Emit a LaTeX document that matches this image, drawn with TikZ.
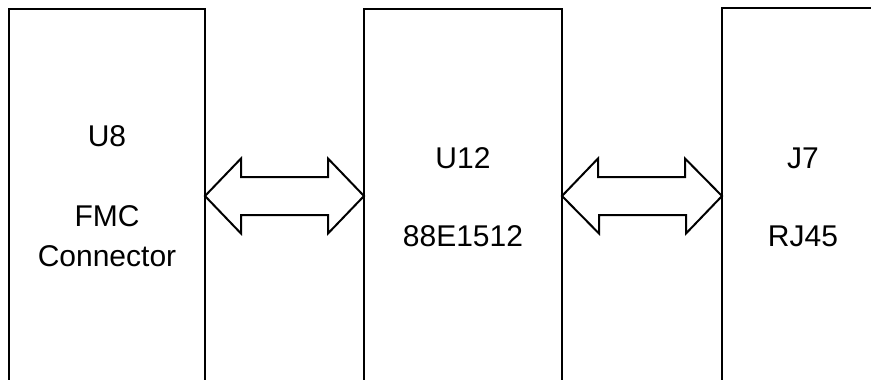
\documentclass[tikz,border=0pt]{standalone}
\usepackage{fontspec}
\setmainfont{Liberation Sans}

\tikzset{
  chip/.style={draw, line width=2pt, minimum width=#1, minimum height=440pt,
    inner sep=0pt, outer sep=0pt, anchor=north west},
  bus/.style={draw, line width=2pt, line join=miter},
  lbl/.style={font=\fontsize{30}{40}\selectfont, anchor=base, align=center}
}

\begin{document}
\begin{tikzpicture}[x=1pt, y=-1pt]
  \useasboundingbox (0,0) rectangle (871,380);
  \clip (0,0) rectangle (871,380);

  % the three parts, cut off at the bottom of the sheet
  \node[chip=196pt] (u8) at (9,9) {};
  \node[chip=198pt] (u12) at (364,9) {};
  \node[chip=196pt] (j7) at (722,8) {};

  \node[lbl] (u8ref) at (107,146) {U8};
  \node[lbl] (u8part) at (107,266) {FMC\\Connector};
  \node[lbl] (u12ref) at (463,168) {U12};
  \node[lbl] (u12part) at (463,246) {88E1512};
  \node[lbl] (j7ref) at (803,168) {J7};
  \node[lbl] (j7part) at (803,246) {RJ45};

  % buses between the parts (tips on the box edges)
  \coordinate (bus1l) at (u8.east |- 0,196);
  \coordinate (bus1r) at (u12.west |- 0,196);
  \coordinate (bus2l) at (u12.east |- 0,196);
  \coordinate (bus2r) at (j7.west |- 0,196);
  \draw[bus] (bus1l) -- ++(36,-37.5) -- ++(0,18.5) -- ++(87,0) -- ++(0,-18.5)
    -- (bus1r) -- ++(-36,37.5) -- ++(0,-18.5) -- ++(-87,0) -- ++(0,18.5) -- cycle;
  \draw[bus] (bus2l) -- ++(36,-37.5) -- ++(0,18.5) -- ++(87,0) -- ++(0,-18.5)
    -- (bus2r) -- ++(-36,37.5) -- ++(0,-18.5) -- ++(-87,0) -- ++(0,18.5) -- cycle;
\end{tikzpicture}
\end{document}
